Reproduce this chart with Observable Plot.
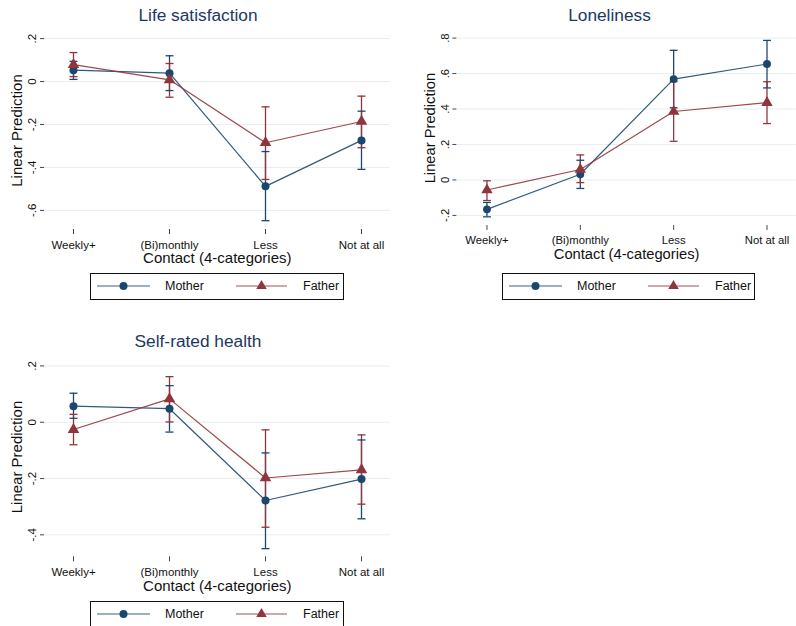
<!DOCTYPE html>
<html>
<head>
<meta charset="utf-8">
<script src="https://cdn.jsdelivr.net/npm/d3@7"></script>
<script src="https://cdn.jsdelivr.net/npm/@observablehq/plot@0.6"></script>
<style>
  html, body { margin: 0; padding: 0; background: #fff; }
  #root { position: relative; width: 796px; height: 626px; overflow: hidden; background: #fff;
          font-family: "Liberation Sans", Arial, Helvetica, sans-serif; }
  .panel { position: absolute; }
  .title { position: absolute; transform: translateX(-50%); white-space: nowrap;
           font-size: 17.3px; color: #1c3861; line-height: 1; }
  svg { font-family: "Liberation Sans", Arial, Helvetica, sans-serif; }
</style>
</head>
<body>
<div id="root"></div>
<script>
// ---- data ----
const categories = ["Weekly+", "(Bi)monthly", "Less", "Not at all"];
const seriesNames = ["Mother", "Father"];
const seriesColors = ["#1a476f", "#90353b"];

const lifeMother   = [0.053, 0.039, -0.488, -0.274];
const lifeMotherLo = [0.010, -0.042, -0.648, -0.409];
const lifeMotherHi = [0.094, 0.120, -0.326, -0.138];
const lifeFather   = [0.079, 0.008, -0.285, -0.186];
const lifeFatherLo = [0.023, -0.073, -0.456, -0.308];
const lifeFatherHi = [0.135, 0.084, -0.118, -0.068];

const loneMother   = [-0.166, 0.032, 0.569, 0.654];
const loneMotherLo = [-0.208, -0.048, 0.407, 0.519];
const loneMotherHi = [-0.127, 0.111, 0.731, 0.787];
const loneFather   = [-0.057, 0.059, 0.386, 0.436];
const loneFatherLo = [-0.116, -0.015, 0.218, 0.318];
const loneFatherHi = [-0.005, 0.141, 0.554, 0.554];

const healthMother   = [0.057, 0.048, -0.278, -0.202];
const healthMotherLo = [0.014, -0.035, -0.449, -0.343];
const healthMotherHi = [0.103, 0.130, -0.109, -0.063];
const healthFather   = [-0.026, 0.083, -0.198, -0.169];
const healthFatherLo = [-0.080, 0.001, -0.373, -0.291];
const healthFatherHi = [0.028, 0.162, -0.027, -0.045];

const lifeTicks = [-0.6, -0.4, -0.2, 0, 0.2];
const loneTicks = [-0.2, 0, 0.2, 0.4, 0.6, 0.8];
const healthTicks = [-0.4, -0.2, 0, 0.2];

const titles = ["Life satisfaction", "Loneliness", "Self-rated health"];
const xLabel = "Contact (4-categories)";
const yLabel = "Linear Prediction";

// ---- helpers ----
function rows(series, vals, lo, hi) {
  return categories.map((c, i) => ({series, cat: c, v: vals[i], lo: lo[i], hi: hi[i]}));
}
const fmt = v => v === 0 ? "0" : (v < 0 ? "-" : "") + String(Math.abs(+v.toFixed(2))).replace(/^0/, "");

// horizontal cap symbol for error bars
const capSymbol = {draw(context, size) { const w = 4; context.moveTo(-w, 0); context.lineTo(w, 0); }};

const root = document.getElementById("root");

function panel(cfg) {
  const data = [
    ...rows("Mother", cfg.m, cfg.mlo, cfg.mhi),
    ...rows("Father", cfg.f, cfg.flo, cfg.fhi)
  ];
  const color = {type: "ordinal", domain: seriesNames, range: seriesColors};
  const chart = Plot.plot({
    width: cfg.width, height: cfg.height,
    marginLeft: cfg.ml, marginRight: cfg.mr, marginTop: cfg.mt, marginBottom: cfg.mb,
    style: {background: "transparent", fontFamily: "Liberation Sans, Arial, sans-serif"},
    x: {type: "point", domain: categories, padding: 0.3},
    y: {domain: cfg.ydomain},
    color,
    marks: [
      Plot.gridY(cfg.ticks, {stroke: "#e6eef0", strokeOpacity: 1, strokeWidth: 1}),
      Plot.axisY(cfg.ticks, {tickSize: 4, tickFormat: () => "", stroke: "#444", line: true, label: null}),
      Plot.text(cfg.ticks, {y: d => d, text: d => fmt(d), frameAnchor: "left", textAnchor: "middle",
                            lineAnchor: "middle", dx: -12, rotate: -90, fontSize: 11.5, fill: "#111"}),
      Plot.axisX({tickSize: 5, tickPadding: 6, fontSize: 11.5, stroke: "#444", line: true, label: null, fill: "#111"}),
      Plot.text([xLabel], {frameAnchor: "bottom", lineAnchor: "middle", textAnchor: "middle",
                           dy: 29, fontSize: 15, fill: "#111"}),
      Plot.text([yLabel], {frameAnchor: "left", textAnchor: "middle", lineAnchor: "middle",
                           dx: cfg.ylabDx, rotate: -90, fontSize: 15, fill: "#111"}),
      Plot.ruleX(data, {x: "cat", y1: "lo", y2: "hi", stroke: "series", strokeWidth: 1.3}),
      Plot.dot(data, {x: "cat", y: "lo", stroke: "series", strokeWidth: 1.3, symbol: capSymbol, r: 4}),
      Plot.dot(data, {x: "cat", y: "hi", stroke: "series", strokeWidth: 1.3, symbol: capSymbol, r: 4}),
      Plot.line(data, {x: "cat", y: "v", z: "series", stroke: "series", strokeWidth: 1.2, strokeOpacity: 0.9}),
      Plot.dot(data.filter(d => d.series === "Mother"), {x: "cat", y: "v", r: 4, fill: "series", stroke: "none", symbol: "circle"}),
      Plot.dot(data.filter(d => d.series === "Father"), {x: "cat", y: "v", r: 4.3, fill: "series", stroke: "none", symbol: "triangle"})
    ]
  });
  const div = document.createElement("div");
  div.className = "panel";
  div.style.left = cfg.left + "px";
  div.style.top = cfg.top + "px";
  div.appendChild(chart);
  root.appendChild(div);

  const t = document.createElement("div");
  t.className = "title";
  t.textContent = cfg.title;
  t.style.left = cfg.titleX + "px";
  t.style.top = cfg.titleY + "px";
  root.appendChild(t);

  // legend
  const L = cfg.legend;
  const svg = d3.create("svg").attr("width", L.w).attr("height", L.h)
    .style("position", "absolute").style("left", L.x + "px").style("top", L.y + "px");
  svg.append("rect").attr("x", 0.5).attr("y", 0.5).attr("width", L.w - 1).attr("height", L.h - 1)
    .attr("fill", "#fff").attr("stroke", "#111").attr("stroke-width", 1);
  const cy = 13;
  seriesNames.forEach((name, i) => {
    const item = L.items[i];
    const g = svg.append("g");
    g.append("line").attr("x1", item.x1).attr("x2", item.x2).attr("y1", cy).attr("y2", cy)
      .attr("stroke", seriesColors[i]).attr("stroke-width", 1.2).attr("stroke-opacity", 0.85);
    const mx = (item.x1 + item.x2) / 2;
    if (i === 0) {
      g.append("circle").attr("cx", mx).attr("cy", cy).attr("r", 4).attr("fill", seriesColors[i]);
    } else {
      g.append("path").attr("d", d3.symbol(d3.symbolTriangle, 4.3 * 4.3 * 2.6)())
        .attr("transform", `translate(${mx},${cy})`).attr("fill", seriesColors[i]);
    }
    g.append("text").attr("x", item.tx).attr("y", cy).attr("dy", "0.35em")
      .attr("font-size", 12.5).attr("fill", "#111")
      .style("font-family", "Liberation Sans, Arial, sans-serif").text(name);
  });
  root.appendChild(svg.node());
}

const legendItems = [{x1: 7, x2: 60, tx: 75}, {x1: 146, x2: 197, tx: 213}];

panel({
  title: titles[0], titleX: 198, titleY: 7,
  left: 0, top: 0, width: 400, height: 300, ml: 44, mr: 10.4, mt: 31, mb: 71,
  ydomain: [-0.689, 0.233], ticks: lifeTicks, ylabDx: -27,
  m: lifeMother, mlo: lifeMotherLo, mhi: lifeMotherHi,
  f: lifeFather, flo: lifeFatherLo, fhi: lifeFatherHi,
  legend: {x: 90, y: 273, w: 254, h: 27, items: legendItems}
});
panel({
  title: titles[1], titleX: 609.5, titleY: 7,
  left: 400, top: 0, width: 403, height: 300, ml: 57.3, mr: 0.1, mt: 30.7, mb: 71,
  ydomain: [-0.257, 0.842], ticks: loneTicks, ylabDx: -27,
  m: loneMother, mlo: loneMotherLo, mhi: loneMotherHi,
  f: loneFather, flo: loneFatherLo, fhi: loneFatherHi,
  legend: {x: 502, y: 273, w: 253, h: 27, items: legendItems}
});
panel({
  title: titles[2], titleX: 198, titleY: 333,
  left: 0, top: 320, width: 400, height: 306, ml: 44, mr: 10.4, mt: 36.7, mb: 69.7,
  ydomain: [-0.478, 0.231], ticks: healthTicks, ylabDx: -27,
  m: healthMother, mlo: healthMotherLo, mhi: healthMotherHi,
  f: healthFather, flo: healthFatherLo, fhi: healthFatherHi,
  legend: {x: 90, y: 601, w: 254, h: 27, items: legendItems}
});
</script>
</body>
</html>
